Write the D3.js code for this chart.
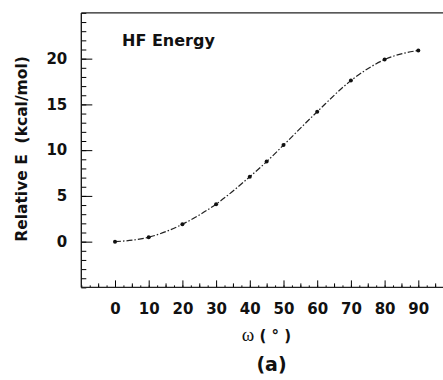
<!DOCTYPE html>
<html>
<head>
<meta charset="utf-8">
<script src="https://cdn.jsdelivr.net/npm/d3@7"></script>
<style>
  body { margin: 0; background: #fff; }
  svg { display: block; }
  text { fill: #111; }
</style>
</head>
<body>
<div id="chart"></div>
<script>
// torsion angle (deg) and HF relative energy (kcal/mol)
const omega = [0, 10, 20, 30, 40, 45, 50, 60, 70, 80, 90];
const relE = [0, 0.48, 1.9, 4.1, 7.1, 8.75, 10.55, 14.2, 17.6, 19.9, 20.9];
const xTicks = [0, 10, 20, 30, 40, 50, 60, 70, 80, 90];
const yTicks = [0, 5, 10, 15, 20];

const width = 443, height = 380;

const svg = d3.select("#chart")
  .append("svg")
  .attr("width", width)
  .attr("height", height);

// scales
const xScale = d3.scaleLinear().domain([-10, 100]).range([81.3, 81.3 + 110 * 3.37]);
const yScale = d3.scaleLinear().domain([-5, 25]).range([287.4, 12.9]);

const font = "'DejaVu Sans', Verdana, sans-serif";

// y axis: major ticks with labels, minor every 1
svg.append("g")
  .attr("transform", `translate(${xScale(-10)},0)`)
  .call(d3.axisLeft(yScale).tickValues(d3.range(-5, 26, 1)).tickSize(-5).tickFormat(""))
  .call(g => g.select(".domain").remove());

svg.append("g")
  .attr("transform", `translate(${xScale(-10)},0)`)
  .call(d3.axisLeft(yScale).tickValues(yTicks).tickSize(-11).tickPadding(14))
  .call(g => g.select(".domain").remove())
  .call(g => g.selectAll("text")
    .attr("font-family", font).attr("font-size", 15).attr("font-weight", "bold"));

// x axis: tiny ticks every 2.5, minor every 5, major every 10
svg.append("g")
  .attr("transform", `translate(0,${yScale(-5)})`)
  .call(d3.axisBottom(xScale).tickValues(d3.range(-10, 100, 2.5)).tickSize(-2).tickFormat(""))
  .call(g => g.select(".domain").remove());

svg.append("g")
  .attr("transform", `translate(0,${yScale(-5)})`)
  .call(d3.axisBottom(xScale).tickValues(d3.range(-5, 100, 10)).tickSize(-4).tickFormat(""))
  .call(g => g.select(".domain").remove());

svg.append("g")
  .attr("transform", `translate(0,${yScale(-5)})`)
  .call(d3.axisBottom(xScale).tickValues(xTicks).tickSize(-7).tickPadding(16))
  .call(g => g.select(".domain").remove())
  .call(g => g.selectAll("text")
    .attr("font-family", font).attr("font-size", 15).attr("font-weight", "bold"));

// frame lines (left, bottom, top)
const x0 = xScale(-10), y0 = yScale(-5), y1 = yScale(25);
svg.append("line").attr("x1", x0).attr("x2", x0).attr("y1", y1).attr("y2", y0)
  .attr("stroke", "#111").attr("stroke-width", 1.3);
svg.append("line").attr("x1", x0).attr("x2", width).attr("y1", y0).attr("y2", y0)
  .attr("stroke", "#222").attr("stroke-width", 1.2);
svg.append("line").attr("x1", x0).attr("x2", width).attr("y1", y1).attr("y2", y1)
  .attr("stroke", "#222").attr("stroke-width", 1.3);

// curve
const data = omega.map((w, i) => ({ w: w, e: relE[i] }));
const line = d3.line()
  .x(d => xScale(d.w))
  .y(d => yScale(d.e))
  .curve(d3.curveMonotoneX);

svg.append("path")
  .datum(data)
  .attr("d", line)
  .attr("fill", "none")
  .attr("stroke", "#222")
  .attr("stroke-width", 1.2)
  .attr("stroke-dasharray", "6,2,1.5,2");

svg.selectAll("circle.pt")
  .data(data)
  .enter()
  .append("circle")
  .attr("class", "pt")
  .attr("cx", d => xScale(d.w))
  .attr("cy", d => yScale(d.e))
  .attr("r", 2)
  .attr("fill", "#111");

// labels
svg.append("text")
  .attr("x", 122).attr("y", 45.7)
  .attr("font-family", font).attr("font-size", 16).attr("font-weight", "bold")
  .text("HF Energy");

svg.append("text")
  .attr("transform", "translate(27,149) rotate(-90)")
  .attr("text-anchor", "middle")
  .attr("font-family", font).attr("font-size", 15.5).attr("font-weight", "bold")
  .attr("xml:space", "preserve")
  .text("Relative E  (kcal/mol)");

const xl = svg.append("text")
  .attr("x", 266.5).attr("y", 341)
  .attr("text-anchor", "middle")
  .attr("font-family", font).attr("font-size", 15).attr("font-weight", "bold");
xl.append("tspan").attr("font-family", "'Liberation Serif', serif").attr("font-size", 19)
  .attr("font-weight", "normal").text("\u03c9");
xl.append("tspan").text(" ( \u00b0 )");

svg.append("text")
  .attr("x", 271.5).attr("y", 371)
  .attr("text-anchor", "middle")
  .attr("font-family", font).attr("font-size", 19).attr("font-weight", "bold")
  .text("(a)");
</script>
</body>
</html>
